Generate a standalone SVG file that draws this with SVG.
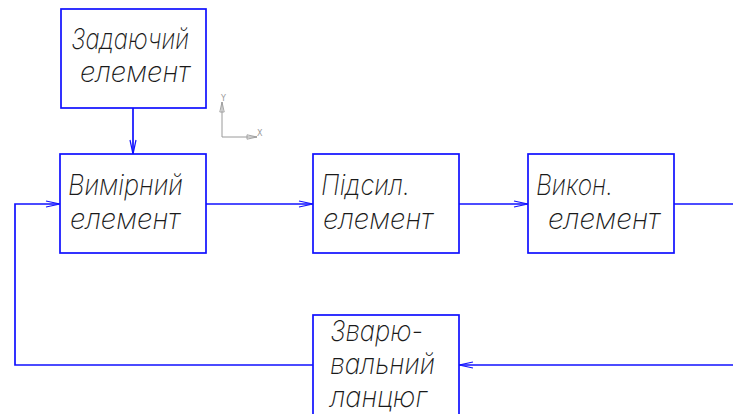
<svg xmlns="http://www.w3.org/2000/svg" width="733" height="414" viewBox="0 0 733 414">
  <defs>
    <marker id="arrow" markerUnits="userSpaceOnUse" markerWidth="16" markerHeight="8" refX="14" refY="4" orient="auto" overflow="visible">
      <path d="M0,1 L14,4 L0,7" fill="none" stroke="#1010ff" stroke-width="1.2"/>
    </marker>
    <marker id="axis-arrow" markerUnits="userSpaceOnUse" markerWidth="12" markerHeight="6" refX="10" refY="3" orient="auto" overflow="visible">
      <path d="M0,0.8 L10,3 L0,5.2 Z" fill="none" stroke="#9a9a9a" stroke-width="0.9"/>
    </marker>
  </defs>
  <style>
    .box { fill: #ffffff; stroke: #1010ff; stroke-width: 1.7; }
    .wire { fill: none; stroke: #1010ff; stroke-width: 1.7; }
    .lbl { font-family: Inter, "Open Sans", "DejaVu Sans", sans-serif; font-style: italic; font-weight: 200; font-size: 28px; fill: #1a1a1a; }
    .axis { fill: none; stroke: #9a9a9a; stroke-width: 1; }
    .axis-lbl { font-family: "DejaVu Sans", sans-serif; font-size: 8px; fill: #9a9a9a; }
  </style>

  <!-- coordinate system icon -->
  <g id="ucs">
    <path class="axis" d="M222,137 L222,102" marker-end="url(#axis-arrow)"/>
    <path class="axis" d="M222,137 L257,137" marker-end="url(#axis-arrow)"/>
    <text class="axis-lbl" x="221" y="101">Y</text>
    <text class="axis-lbl" x="257" y="136">X</text>
  </g>

  <!-- connectors -->
  <g id="connectors">
    <path class="wire" d="M133,108 L133,154" marker-end="url(#arrow)"/>
    <path class="wire" d="M206,204 L313,204" marker-end="url(#arrow)"/>
    <path class="wire" d="M459,204 L528,204" marker-end="url(#arrow)"/>
    <path class="wire" d="M674,204 L733,204"/>
    <path class="wire" d="M733,365 L459,365" marker-end="url(#arrow)"/>
    <path class="wire" d="M313,365 L15,365 L15,204 L60,204" marker-end="url(#arrow)"/>
  </g>

  <g id="setpoint">
    <rect class="box" x="61" y="9" width="145" height="99"/>
    <text class="lbl" x="71" y="49" textLength="118" lengthAdjust="spacingAndGlyphs">Задаючий</text>
    <text class="lbl" x="80" y="82" textLength="110" lengthAdjust="spacingAndGlyphs">елемент</text>
  </g>

  <g id="measuring">
    <rect class="box" x="60" y="154" width="146" height="99"/>
    <text class="lbl" x="68" y="195" textLength="115" lengthAdjust="spacingAndGlyphs">Вимірний</text>
    <text class="lbl" x="70" y="229" textLength="110" lengthAdjust="spacingAndGlyphs">елемент</text>
  </g>

  <g id="amplifier">
    <rect class="box" x="313" y="154" width="146" height="99"/>
    <text class="lbl" x="321" y="195" textLength="89" lengthAdjust="spacingAndGlyphs">Підсил.</text>
    <text class="lbl" x="323" y="229" textLength="110" lengthAdjust="spacingAndGlyphs">елемент</text>
  </g>

  <g id="actuator">
    <rect class="box" x="528" y="154" width="146" height="99"/>
    <text class="lbl" x="536" y="195" textLength="77" lengthAdjust="spacingAndGlyphs">Викон.</text>
    <text class="lbl" x="548" y="229" textLength="112" lengthAdjust="spacingAndGlyphs">елемент</text>
  </g>

  <g id="welding-circuit">
    <rect class="box" x="313" y="315" width="146" height="110"/>
    <text class="lbl" x="330" y="341" textLength="93" lengthAdjust="spacingAndGlyphs">Зварю-</text>
    <text class="lbl" x="330" y="374" textLength="105" lengthAdjust="spacingAndGlyphs">вальний</text>
    <text class="lbl" x="330" y="407" textLength="97" lengthAdjust="spacingAndGlyphs">ланцюг</text>
  </g>
</svg>
